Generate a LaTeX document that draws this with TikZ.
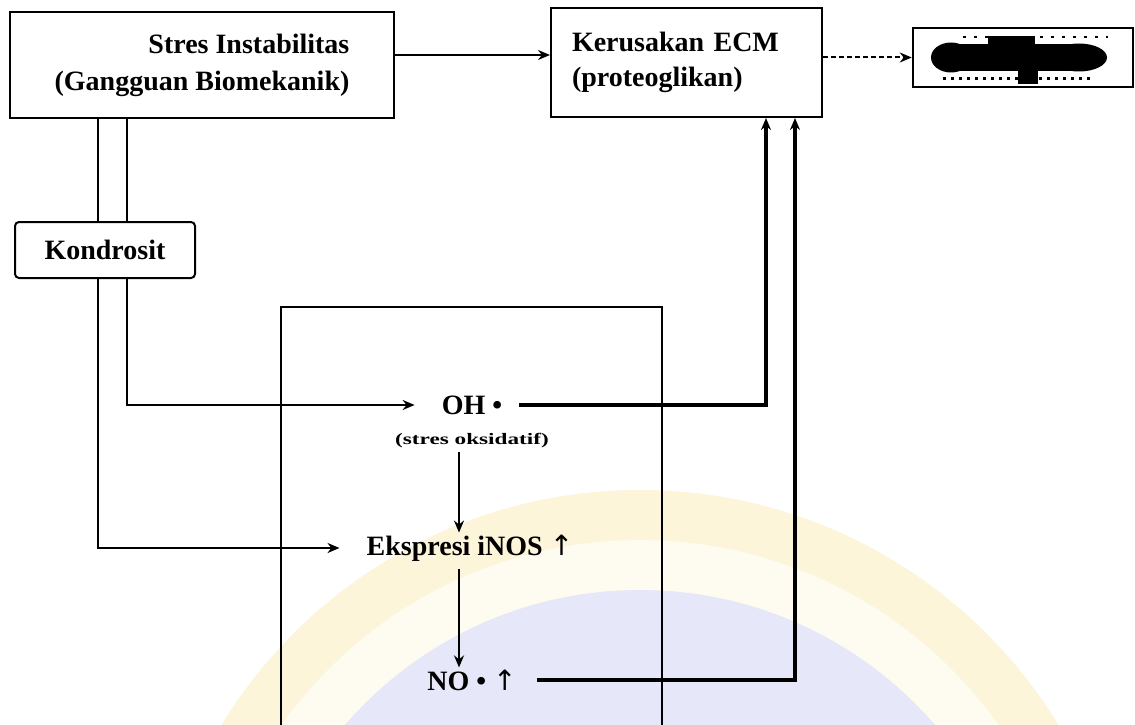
\documentclass[tikz,border=0pt]{standalone}
\usepackage{fontspec}
\setmainfont{Liberation Serif}
\newfontfamily\symfont{DejaVu Sans}
\usetikzlibrary{arrows.meta,calc}
\definecolor{wmyellow}{HTML}{FCF5DA}
\definecolor{wmyellowlight}{HTML}{FEFBF0}
\definecolor{wmblue}{HTML}{E6E7F8}
\tikzset{
  box/.style={draw, line width=2pt, inner sep=0pt, font=\fontsize{28}{37}\selectfont\bfseries},
  lbl/.style={font=\fontsize{28}{30}\selectfont\bfseries, inner sep=2pt},
  small/.style={font=\fontsize{16}{18}\selectfont\bfseries, inner sep=1pt},
  conn/.style={line width=2.4pt},
  arr/.style={conn, -{Stealth[length=12pt,width=10pt]}},
  frame/.style={line width=2pt}
}
\begin{document}
\begin{tikzpicture}[x=1pt,y=-1pt]
\useasboundingbox (0,0) rectangle (1135,725);
\fill[white] (0,0) rectangle (1135,725);
% faint watermark in the background
\begin{scope}
  \clip (0,0) rectangle (1135,725);
  \fill[wmyellow] (640,980) circle (490);
  \fill[wmyellowlight] (640,980) circle (440);
  \fill[wmblue] (640,980) circle (390);
\end{scope}

% helper x positions
\coordinate (xa) at (98,0);
\coordinate (xb) at (127,0);
\coordinate (xc) at (766,0);
\coordinate (xd) at (795,0);
\coordinate (xe) at (459,0);

% boxes
\node[box, minimum width=384, minimum height=106, align=right] (s1) at (202,65)
  {Stres Instabilitas\\(Gangguan Biomekanik)};
\node[box, minimum width=271, minimum height=109, align=left, text width=229] (s2) at (686.5,62.5)
  {Kerusakan ECM\\[-2pt](proteoglikan)};
\node[box, line width=2.5pt, minimum width=220, minimum height=59] (s3) at (1023,57.5) {};
% illegible content of the last box
\fill[black] ($(s3.center)+(-72,0)$) ellipse (20 and 15);
\fill[black] ($(s3.center)+(56,0)$) ellipse (28 and 14);
\fill[black] ($(s3.center)+(-66,-13)$) rectangle ($(s3.center)+(52,14)$);
\fill[black] ($(s3.center)+(-35,-21)$) rectangle ($(s3.center)+(12,-10)$);
\fill[black] ($(s3.center)+(-5,10)$) rectangle ($(s3.center)+(15,26)$);
\draw[line width=2.5pt, dash pattern=on 3pt off 5pt] ($(s3.center)+(-80,21)$) -- ($(s3.center)+(70,21)$);
\draw[line width=2pt, dash pattern=on 3pt off 8pt] ($(s3.center)+(-60,-20)$) -- ($(s3.center)+(85,-20)$);

\node[box, rounded corners=4pt, minimum width=180, minimum height=56] (kon) at (105,250) {Kondrosit};

% inner labels
\node[lbl] (oh) at (472,405) {OH •};
\node[small] (oks) at (472,441) {\scalebox{1.45}[1]{(stres oksidatif)}};
\node[lbl] (ins) at (470,548) {Ekspresi iNOS\ {\symfont\mdseries ↑}};
\node[lbl] (no) at (472,680) {NO • {\symfont\mdseries ↑}};

% open frame
\draw[frame] (281,725) -- (281,307) -- (662,307) -- (662,725);

% connectors
\draw[arr] ([yshift=10pt]s1.east) -- ([yshift=10pt]s1.east -| s2.west);
\draw[line width=2pt, dash pattern=on 5pt off 3pt, -{Stealth[length=12pt,width=10pt]}] (s2.east |- s3.west) -- (s3.west);
\draw[conn] (s1.south -| xa) -- (kon.north -| xa);
\draw[conn] (s1.south -| xb) -- (kon.north -| xb);
\draw[arr] (kon.south -| xb) |- ([xshift=-25pt]oh.west);
\draw[arr] (kon.south -| xa) |- ([xshift=-25pt]ins.west);
\draw[arr, line width=3.2pt] ([xshift=15pt]oh.east) -| (s2.south -| xc);
\draw[arr, line width=3.2pt] ([xshift=18pt]no.east) -| (s2.south -| xd);
\draw[arr, shorten <=2pt] (oks.south -| xe) -- (ins.north -| xe);
\draw[arr, shorten <=6pt] (ins.south -| xe) -- (no.north -| xe);
\end{tikzpicture}
\end{document}
